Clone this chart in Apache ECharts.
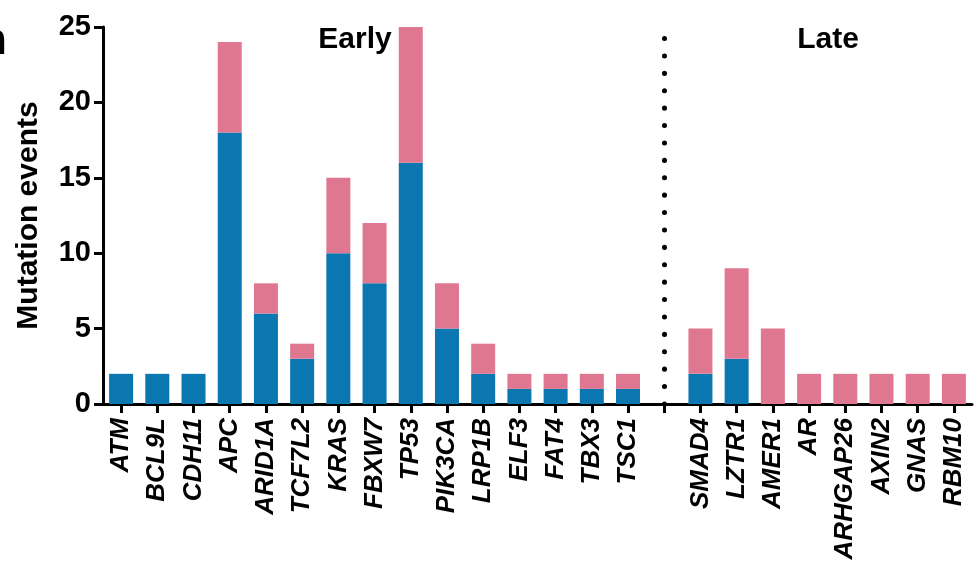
<!DOCTYPE html>
<html>
<head>
<meta charset="utf-8">
<script src="https://cdn.jsdelivr.net/npm/echarts@6/dist/echarts.min.js"></script>
<style>html,body{margin:0;padding:0;background:#fff;}#c{width:977px;height:578px;}</style>
</head>
<body>
<div id="c"></div>
<script>
var categories = ['ATM','BCL9L','CDH11','APC','ARID1A','TCF7L2','KRAS','FBXW7','TP53','PIK3CA','LRP1B','ELF3','FAT4','TBX3','TSC1','',
                  'SMAD4','LZTR1','AMER1','AR','ARHGAP26','AXIN2','GNAS','RBM10'];
var blueValues = [2,2,2,18,6,3,10,8,16,5,2,1,1,1,1,null, 2,3,0,0,0,0,0,0];
var pinkValues = [0,0,0,6,2,1,5,4,9,3,2,1,1,1,1,null, 3,6,5,2,2,2,2,2];
var yTicks = {min:0, max:25, interval:5};
var phaseLabels = ['Early','Late'];
var dividerIndex = 15;

var FONT = 'Liberation Sans, Arial, Helvetica, sans-serif';
var chart = echarts.init(document.getElementById('c'));
chart.setOption({
  animation:false,
  backgroundColor:'#fff',
  grid:{left:103, right:5, top:27, bottom:174, containLabel:false, outerBoundsMode:'none'},
  xAxis:{
    type:'category', data:categories, boundaryGap:true,
    axisLine:{show:true, lineStyle:{color:'#000', width:3}},
    axisTick:{show:true, alignWithLabel:true, interval:0, length:9, lineStyle:{color:'#000', width:3}},
    axisLabel:{interval:0, rotate:90, margin:14, color:'#000', fontFamily:FONT, fontWeight:'bold', fontStyle:'italic', fontSize:26},
    splitLine:{show:false}
  },
  yAxis:{
    type:'value', min:yTicks.min, max:yTicks.max, interval:yTicks.interval,
    name:'Mutation events', nameLocation:'middle', nameGap:59,
    nameTextStyle:{color:'#000', fontFamily:FONT, fontWeight:'bold', fontSize:30},
    axisLine:{show:true, lineStyle:{color:'#000', width:3}},
    axisTick:{show:true, length:9, lineStyle:{color:'#000', width:3}},
    axisLabel:{color:'#000', fontFamily:FONT, fontWeight:'bold', fontSize:29, margin:12},
    splitLine:{show:false}
  },
  series:[
    {name:'Lower', type:'bar', stack:'t', data:blueValues, barWidth:24, itemStyle:{color:'#0b77b0'}},
    {name:'Upper', type:'bar', stack:'t', data:pinkValues, barWidth:24, itemStyle:{color:'#e07791'},
     markLine:{silent:true, symbol:'none', label:{show:false},
       lineStyle:{color:'#000', width:5, type:[0.1,17.3], dashOffset:0, cap:'round'},
       data:[{xAxis:dividerIndex}]}}
  ],
  graphic:[
    {type:'text', x:355, y:40, style:{text:phaseLabels[0], fill:'#000', font:'bold 30px '+FONT, textAlign:'center', textVerticalAlign:'middle'}},
    {type:'text', x:828, y:40, style:{text:phaseLabels[1], fill:'#000', font:'bold 30px '+FONT, textAlign:'center', textVerticalAlign:'middle'}},
    {type:'text', x:7, y:42, style:{text:'n', fill:'#000', font:'bold 44px '+FONT, textAlign:'right', textVerticalAlign:'middle'}}
  ]
});
</script>
</body>
</html>
